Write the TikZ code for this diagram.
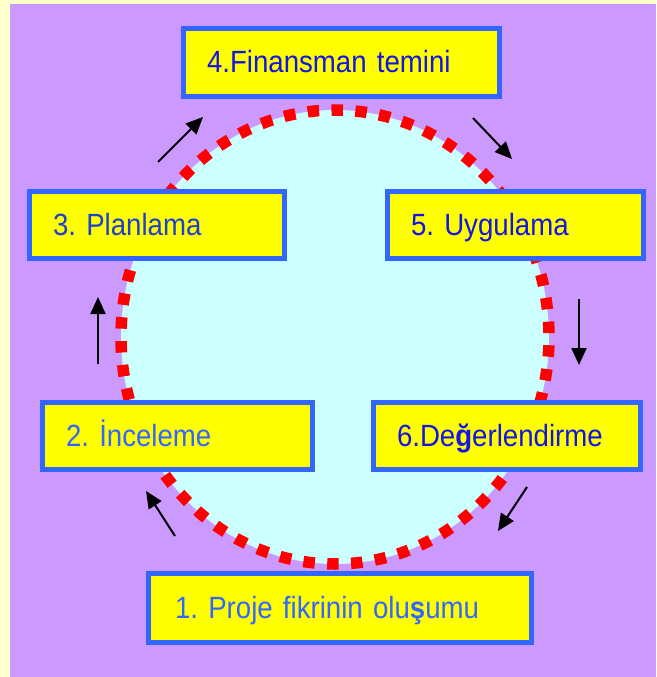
\documentclass[tikz,border=0pt]{standalone}
\usepackage{fontspec}
\setmainfont{Liberation Sans}[FakeStretch=0.9]
\usepackage{xcolor}
\usepackage{tikz}
\usetikzlibrary{arrows.meta}
\frenchspacing
\definecolor{bgcream}{HTML}{FFFFCC}
\definecolor{bgpurple}{HTML}{CC99FF}
\definecolor{ringcyan}{HTML}{CCFFFF}
\definecolor{boxblue}{HTML}{3366FF}
\definecolor{boxyellow}{HTML}{FFFF00}
\definecolor{txtdark}{HTML}{1414E6}
\definecolor{txtmid}{HTML}{1F3FD0}
\definecolor{txtlight}{HTML}{3366FF}
\tikzstyle{stage} = [draw=boxblue, fill=boxyellow, line width=5pt, minimum height=67pt, inner xsep=23.5pt, inner ysep=0pt, align=left, text height=21pt, text depth=0pt, font=\fontsize{30.7}{36}\selectfont\frenchspacing]
\tikzstyle{arrow} = [line width=2pt, -{Triangle[length=17pt,width=15pt]}]

\begin{document}
\begin{tikzpicture}[x=1pt,y=-1pt]
    % background
    \fill[bgcream] (0,0) rectangle (656,677);
    \fill[bgpurple] (10,4) rectangle (656,677);
    % ring
    \fill[ringcyan] (335,337) ellipse [x radius=214pt, y radius=227pt];
    \draw[red, line width=11.5pt, dash pattern=on 11.5pt off 12.4pt, dash phase=20pt] (335,337) ellipse [x radius=214pt, y radius=227pt];
    % stages
    \node[stage, text width=330pt, minimum height=69pt, inner xsep=26.5pt, text=txtlight] (idea) at (340,608) {1. Proje fikrinin olu{\bfseries ş}umu};
    \node[stage, text width=223pt, text=txtlight] (review) at (177.5,436) {2. İnceleme};
    \node[stage, text width=208pt, text=txtmid] (plan) at (157,225) {3. Planlama};
    \node[stage, text width=269pt, text=txtdark] (finance) at (341.5,62.5) {4.Finansman temini};
    \node[stage, text width=209pt, text=txtdark] (apply) at (515.5,225) {5. Uygulama};
    \node[stage, text width=220pt, text=txtdark] (assess) at (507,436) {6.De{\bfseries ğ}erlendirme};
    % arrows
    \coordinate (a1s) at (175,536); \coordinate (a1e) at (146,491);
    \coordinate (a2s) at (98,364);  \coordinate (a2e) at (98,297);
    \coordinate (a3s) at (158,162); \coordinate (a3e) at (203,117);
    \coordinate (a4s) at (473,118); \coordinate (a4e) at (512,159);
    \coordinate (a5s) at (579,299); \coordinate (a5e) at (579,365);
    \coordinate (a6s) at (527,487); \coordinate (a6e) at (498,531);
    \draw[arrow] (a1s) -- (a1e);
    \draw[arrow] (a2s) -- (a2e);
    \draw[arrow] (a3s) -- (a3e);
    \draw[arrow] (a4s) -- (a4e);
    \draw[arrow] (a5s) -- (a5e);
    \draw[arrow] (a6s) -- (a6e);
\end{tikzpicture}
\end{document}
